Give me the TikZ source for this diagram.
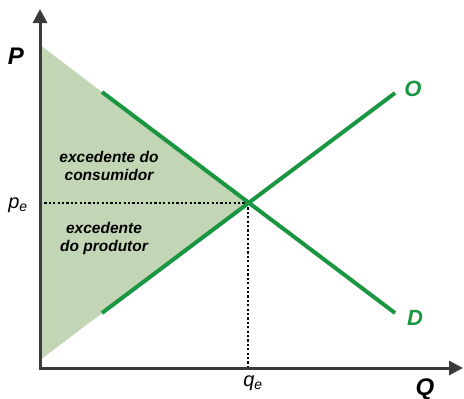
\documentclass[tikz,border=0pt]{standalone}
\usepackage{fontspec}
\setmainfont{Liberation Sans}
\usetikzlibrary{arrows.meta, positioning}
\definecolor{mkgreen}{RGB}{26,150,66}
\definecolor{mkfill}{RGB}{194,213,180}
\definecolor{mkaxis}{RGB}{58,58,58}
\tikzset{
  axis/.style={-{Triangle[length=14pt, width=14pt]}, line width=3pt, color=mkaxis},
  curve/.style={line width=4pt, color=mkgreen},
  guide/.style={line width=2.4pt, dash pattern=on 2.2pt off 2.2pt},
  axlabel/.style={font=\fontsize{24}{28}\selectfont\bfseries\itshape},
  curvelabel/.style={font=\fontsize{22}{26}\selectfont\bfseries\itshape, text=mkgreen},
  eqlabel/.style={font=\fontsize{20}{24}\selectfont\itshape},
  arealabel/.style={font=\fontsize{15.5}{18}\selectfont\bfseries\itshape, align=center}
}
\begin{document}
\begin{tikzpicture}[x=1pt, y=-1pt]
  \useasboundingbox (0,0) rectangle (464,399);
  % Points
  \coordinate (origin) at (40,368);
  \coordinate (ptop) at (40,45);
  \coordinate (pbot) at (40,360);
  \coordinate (eq) at (248,203);
  \coordinate (dstart) at (102,92);
  \coordinate (dend) at (395,313);
  \coordinate (sstart) at (102,313);
  \coordinate (send) at (395,93);
  % Surplus area
  \fill[mkfill] (ptop) -- (eq) -- (pbot) -- cycle;
  % Guides
  \draw[guide] (origin |- eq) -- (eq);
  \draw[guide] (eq) -- (eq |- origin);
  % Curves
  \draw[curve] (dstart) -- (dend);
  \draw[curve] (sstart) -- (send);
  % Axes
  \draw[axis] (origin) -- (40,9);
  \draw[axis] ([xshift=-1.5pt]origin) -- (463,368);
  % Labels
  \node[axlabel] (plabel) at (16,56) {P};
  \node[axlabel] (qlabel) at (425,389) {Q};
  \node[curvelabel] (olabel) at (413,89) {O};
  \node[curvelabel] (dlabel) at (415,318) {D};
  \node[eqlabel] (pe) at (18,205) {p\textsubscript{e}};
  \node[eqlabel] (qe) at (253,383) {q\textsubscript{e}};
  \node[arealabel] (consumer) at (109,166) {excedente do\\consumidor};
  \node[arealabel] (producer) at (104,238) {excedente\\do produtor};
\end{tikzpicture}
\end{document}
